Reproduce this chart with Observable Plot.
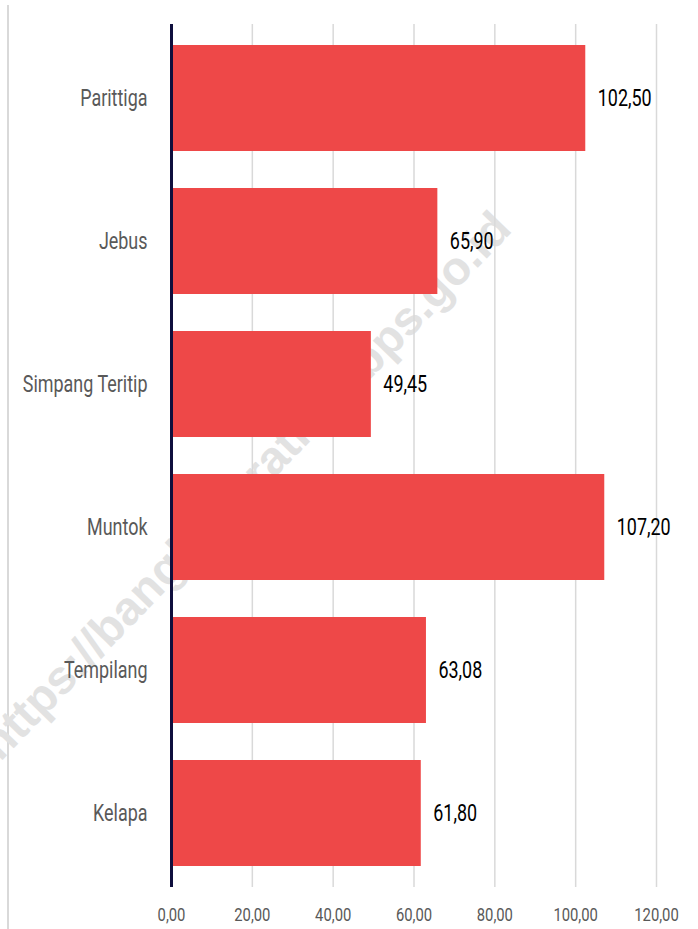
<!DOCTYPE html>
<html>
<head>
<meta charset="utf-8">
<script src="https://cdn.jsdelivr.net/npm/d3@7"></script>
<script src="https://cdn.jsdelivr.net/npm/@observablehq/plot@0.6"></script>
<style>
  html, body { margin: 0; padding: 0; background: #fff; }
  #wrap { position: relative; width: 698px; height: 929px; overflow: hidden; }
  #edge { position: absolute; left: 7px; top: 5px; width: 2px; height: 924px; background: #d9d9d9; z-index: 0; }
  #wm { position: absolute; left: 245px; top: 485px; transform: translate(-50%, -50%) rotate(-46deg);
        font-family: "Liberation Sans", Arial, sans-serif; font-weight: bold; font-size: 47px;
        color: #e2e2e2; white-space: nowrap; pointer-events: none; z-index: 0; }
  #chart { position: relative; z-index: 1; }
</style>
</head>
<body>
<div id="wrap"><div id="edge"></div><div id="wm">https://bangkabaratkab.bps.go.id</div><div id="chart"></div></div>
<script>
const categories = ["Parittiga", "Jebus", "Simpang Teritip", "Muntok", "Tempilang", "Kelapa"];
const values = [102.50, 65.90, 49.45, 107.20, 63.08, 61.80];
const xTicks = [0, 20, 40, 60, 80, 100, 120];

const data = categories.map((c, i) => ({category: c, value: values[i]}));
const fmt = d => d.toFixed(2).replace(".", ",");
const font = 'Roboto, "Noto Sans", sans-serif';

const chart = Plot.plot({
  width: 698,
  height: 929,
  marginLeft: 171,
  marginRight: 42,
  marginTop: 24,
  marginBottom: 42,
  style: {fontFamily: font, background: "transparent", overflow: "visible"},
  x: {domain: [0, 120], axis: null, label: null},
  y: {domain: categories, paddingInner: 0.256, paddingOuter: 0.128, axis: null, label: null},
  marks: [
    Plot.ruleX(xTicks, {stroke: "#d9d9d9", strokeWidth: 1.5}),
    Plot.barX(data, {y: "category", x: "value", fill: "#EE4848"}),
    Plot.ruleX([0], {stroke: "#0f0f3d", strokeWidth: 3}),
    Plot.text(data, {y: "category", x: "value", text: d => fmt(d.value), dx: 12, textAnchor: "start", fontSize: 23, fill: "#000"}),
    Plot.axisY({tickSize: 0, tickPadding: 24, fontSize: 23, color: "#595959", label: null}),
    Plot.axisX({ticks: xTicks, tickFormat: fmt, tickSize: 0, tickPadding: 20, fontSize: 19, color: "#595959", label: null})
  ]
});
// condense glyphs horizontally around each text's anchor point
const sx = 0.78;
chart.querySelectorAll("text").forEach(t => {
  let x = parseFloat(t.getAttribute("x"));
  if (!isFinite(x)) x = 0;
  const tr = t.getAttribute("transform") || "";
  t.setAttribute("transform", `${tr} translate(${x},0) scale(${sx},1) translate(${-x},0)`);
});
document.getElementById("chart").appendChild(chart);
</script>
</body>
</html>
